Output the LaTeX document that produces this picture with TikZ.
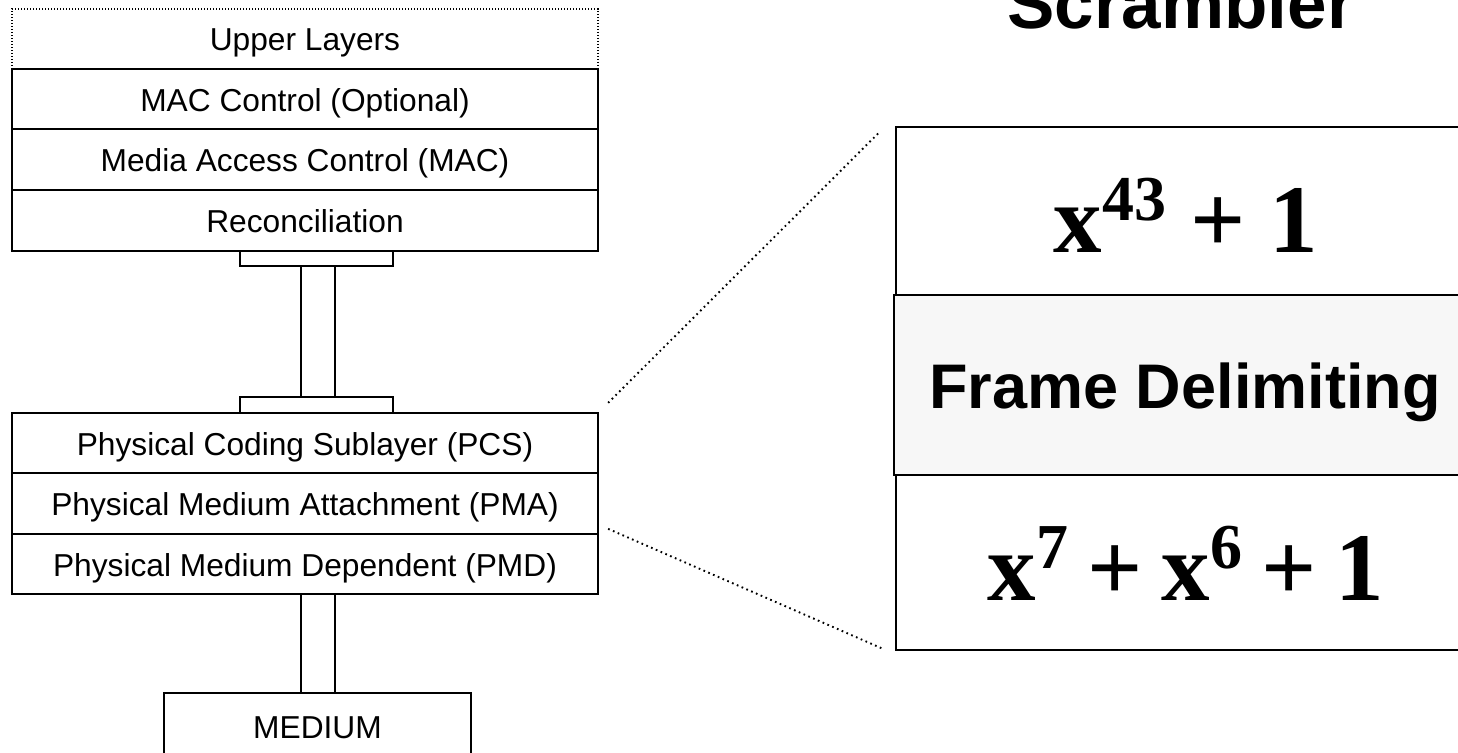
\documentclass[tikz,border=0pt]{standalone}
\usepackage{fontspec}
\setmainfont{Liberation Sans}
\newfontfamily\timesfont{Liberation Serif}
\usetikzlibrary{calc}
\definecolor{framegray}{HTML}{F7F7F7}
\tikzset{
  x=1pt, y=-1pt,
  layer/.style={draw, line width=2.3pt, rectangle, inner sep=0pt,
    minimum width=586pt, text height=24pt, text depth=0pt,
    font=\fontsize{31.7}{36}\selectfont},
  upperlayer/.style={layer, draw=none},
  part/.style={draw, line width=2.3pt, rectangle, inner sep=0pt, fill=white},
  polybox/.style={draw, line width=2.4pt, rectangle, inner sep=0pt,
    minimum width=580pt, text depth=0pt},
  poly/.style={font=\timesfont\bfseries\fontsize{97}{97}\selectfont},
  zoomline/.style={line width=1.9pt, dash pattern=on 1.7pt off 3.5pt},
  fineline/.style={line width=1.6pt, dash pattern=on 1.2pt off 1.8pt}
}
\newcommand{\sps}[1]{\raisebox{32pt}{\fontsize{64}{64}\selectfont #1}}
\newcommand{\pl}{\hspace{19pt}+\hspace{19pt}}
\begin{document}
\begin{tikzpicture}
\useasboundingbox (0,0) rectangle (1458,752);
\clip (0,0) rectangle (1458,752);

% protocol stack, upper part
\draw[fineline] (12,69) -- (12,9) -- (598,9) -- (598,69);
\node[upperlayer, minimum height=60pt] (upper) at (305,39) {Upper Layers};
\node[layer, minimum height=60pt] (mac) at (305,99) {MAC Control (Optional)};
\node[layer, minimum height=61pt] (media) at (305,159.5) {Media Access Control (MAC)};
\node[layer, minimum height=61pt] (recon) at (305,220.5) {Reconciliation};

% interface between reconciliation and PCS
\node[part, minimum width=34pt, minimum height=131pt] (stem1) at (318,331.5) {};
\node[part, minimum width=153pt, minimum height=15pt] (flange1) at (316.5,258.5) {};
\node[part, minimum width=153pt, minimum height=16pt] (flange2) at (316.5,405) {};

% protocol stack, physical part
\node[layer, minimum height=60pt] (pcs) at (305,443) {Physical Coding Sublayer (PCS)};
\node[layer, minimum height=61pt] (pma) at (305,503.5) {Physical Medium Attachment (PMA)};
\node[layer, minimum height=60pt] (pmd) at (305,564) {Physical Medium Dependent (PMD)};

% link to the medium
\node[part, minimum width=34pt, minimum height=99pt] (stem2) at (318,643.5) {};
\node[layer, minimum width=307pt, minimum height=90pt, text depth=24pt] (medium) at (317.5,738) {MEDIUM};

% PCS detail
\node[anchor=base, font=\bfseries\fontsize{71}{71}\selectfont] (title) at (1181,29) {Scrambler};
\node[polybox, minimum height=168pt, text height=82pt, poly] (scr1) at (1186,211)
  {x\sps{43} + 1};
\node[polybox, fill=framegray, minimum width=582pt, minimum height=180pt, text height=46pt,
  font=\bfseries\fontsize{63}{63}\selectfont] (frame) at (1185,385) {Frame Delimiting};
\node[polybox, minimum height=175pt, text height=75pt, poly] (scr2) at (1186,562.5)
  {x\sps{7}\pl x\sps{6}\pl 1};

% zoom lines from the stack to the detail
\draw[zoomline] ($(pcs.north east)+(9,-9)$) -- ($(scr1.north west)+(-15,6)$);
\draw[zoomline] ($(pmd.north east)+(9,-4)$) -- ($(scr2.south west)+(-11,-2)$);
\end{tikzpicture}
\end{document}
